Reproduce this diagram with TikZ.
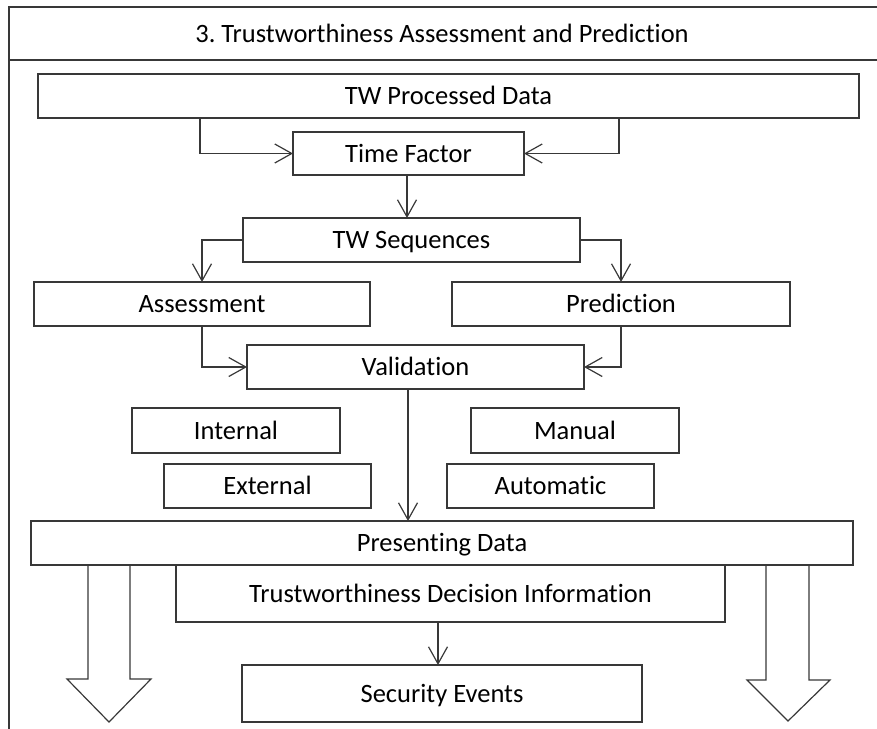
\documentclass[tikz,border=0pt]{standalone}
\usepackage{fontspec}
\setmainfont{Carlito}[Ligatures={NoCommon}]
\usetikzlibrary{arrows.meta}
\frenchspacing
\begin{document}
\begin{tikzpicture}[x=1pt,y=-1pt,
  ln/.style={draw=black!78, line width=1.2pt},
  box/.style={ln, rectangle, inner sep=0pt, outer sep=0pt, font=\fontsize{26.5}{31}\selectfont, text height=17pt, text depth=0pt},
  lbl/.style={inner sep=0pt, font=\fontsize{26.5}{31}\selectfont, text height=17pt, text depth=0pt},
  arr/.style={ln, -{Straight Barb[length=17pt,width=19pt,line width=1.2pt]}},
  bigarr/.style={ln, line join=miter}
]
\useasboundingbox (0,0) rectangle (877,728);
% frame
\coordinate (ftl) at (9,7);
\coordinate (ftr) at (880,7);
\coordinate (fbl) at (9,731);
\coordinate (dl) at (9,60);
\coordinate (dr) at (880,60);
\draw[ln] (fbl) -- (ftl) -- (ftr);
\draw[ln] (dl) -- (dr);
\node[lbl] (title) at (442,34) {3. Trustworthiness Assessment and Prediction};
% boxes
\node[box, minimum width=821pt, minimum height=44pt] (tw) at (448.5,96) {TW Processed Data};
\node[box, minimum width=231pt, minimum height=43pt] (tf) at (408.5,153.5) {Time Factor};
\node[box, minimum width=337pt, minimum height=44pt] (seq) at (411.5,240) {TW Sequences};
\node[box, minimum width=336pt, minimum height=44pt] (ass) at (202,304) {Assessment};
\node[box, minimum width=338pt, minimum height=44pt] (pred) at (621,304) {Prediction};
\node[box, minimum width=337pt, minimum height=44pt] (val) at (415.5,367) {Validation};
\node[box, minimum width=208pt, minimum height=45pt] (int) at (236,430.5) {Internal};
\node[box, minimum width=208pt, minimum height=45pt] (man) at (575,430.5) {Manual};
\node[box, minimum width=207pt, minimum height=44pt] (ext) at (267.5,486) {External};
\node[box, minimum width=207pt, minimum height=44pt] (aut) at (550.5,486) {Automatic};
\node[box, minimum width=822pt, minimum height=44pt] (pres) at (442,543) {Presenting Data};
\node[box, minimum width=549pt, minimum height=57pt] (tdi) at (450.5,593.5) {Trustworthiness Decision Information};
\node[box, minimum width=400pt, minimum height=57pt] (sec) at (442,693.5) {Security Events};
% connectors
\coordinate (c1) at (200,0);
\coordinate (c2) at (619,0);
\draw[arr] (tw.south -| c1) |- (tf.west);
\draw[arr] (tw.south -| c2) |- (tf.east);
\coordinate (c4) at (407,0);
\draw[arr] (tf.south -| c4) -- (seq.north -| c4);
\draw[arr] (seq.west) -| (ass.north);
\draw[arr] (seq.east) -| (pred.north);
\draw[arr] (ass.south) |- (val.west);
\draw[arr] (pred.south) |- (val.east);
\coordinate (c5) at (408,0);
\draw[arr] (val.south -| c5) -- (pres.north -| c5);
\coordinate (c6) at (438,0);
\draw[arr] (tdi.south -| c6) -- (sec.north -| c6);
% big arrows
\coordinate (la1) at (88,565);
\coordinate (la2) at (88,679);
\coordinate (la3) at (67,679);
\coordinate (la4) at (109,722);
\coordinate (la5) at (151,679);
\coordinate (la6) at (130,679);
\coordinate (la7) at (130,565);
\draw[bigarr] (la1) -- (la2) -- (la3) -- (la4) -- (la5) -- (la6) -- (la7);
\coordinate (ra1) at (766,565);
\coordinate (ra2) at (766,680);
\coordinate (ra3) at (747,680);
\coordinate (ra4) at (788,721);
\coordinate (ra5) at (830,680);
\coordinate (ra6) at (809,680);
\coordinate (ra7) at (809,565);
\draw[bigarr] (ra1) -- (ra2) -- (ra3) -- (ra4) -- (ra5) -- (ra6) -- (ra7);
\end{tikzpicture}
\end{document}
